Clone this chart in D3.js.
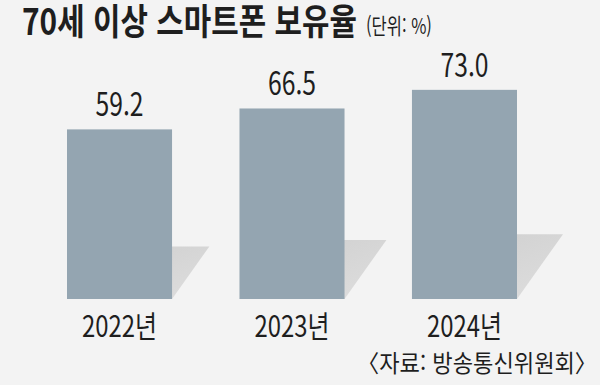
<!DOCTYPE html>
<html lang="ko">
<head>
    <meta charset="utf-8">
    <title>70세 이상 스마트폰 보유율</title>
    <script src="https://d3js.org/d3.v7.min.js" charset="utf-8"></script>
    <style>
        body { margin: 0; background: #f3f3f3; }
        text { font-family: "Noto Sans CJK KR", "Noto Sans", sans-serif; fill: #1e1e1e; }
    </style>
</head>
<body>
<script>

    var years = ["2022년", "2023년", "2024년"]
    var values = [59.2, 66.5, 73.0]
    var valueLabels = ["59.2", "66.5", "73.0"]

    var w = 600
    var h = 385
    var base = 299

    var svg = d3.select("body").append("svg").attr("width", w).attr("height", h)

    svg.append("rect").attr("width", w).attr("height", h).attr("fill", "#f3f3f3")

    var defs = svg.append("defs")
    var grad = defs.append("linearGradient").attr("id", "shade")
        .attr("x1", "0").attr("y1", "0").attr("x2", "1").attr("y2", "1")
    grad.append("stop").attr("offset", "0").attr("stop-color", "#cdcdcd")
    grad.append("stop").attr("offset", "1").attr("stop-color", "#dedede")
    defs.append("filter").attr("id", "soft")
        .append("feGaussianBlur").attr("stdDeviation", 0.7)

    // condensed look: put text at (x,y) and squeeze it to the given width
    function squeezed(x, y, str, size, width, anchor, weight) {
        var g = svg.append("g")
        var t = g.append("text")
            .attr("font-size", size)
            .attr("font-weight", weight || 400)
            .attr("text-anchor", anchor || "start")
            .text(str)
        var natural = t.node().getComputedTextLength()
        g.attr("transform", "translate(" + x + "," + y + ") scale(" + (width / natural) + ",1)")
        return g
    }

    var xScale = d3.scaleBand().domain(years)
        .range([33.25, 550.75])
        .paddingInner(0.391)
        .paddingOuter(0.1957)

    var yScale = d3.scaleLinear().domain([0, 100]).range([base, base - 286.5])

    var data = years.map(function (y, i) { return { year: y, value: values[i], label: valueLabels[i] } })

    // shadow behind each bar
    svg.selectAll(".shadow").data(data).enter().append("polygon")
        .attr("class", "shadow")
        .attr("fill", "url(#shade)")
        .attr("filter", "url(#soft)")
        .attr("points", function (d) {
            var x = xScale(d.year)
            var bw = xScale.bandwidth()
            var bh = base - yScale(d.value)
            var sh = bh * 0.31
            var dx = bh * 0.22
            return [[x, base], [x + bw, base], [x + bw + dx, base - sh], [x + dx, base - sh]].join(" ")
        })

    svg.selectAll(".bar").data(data).enter().append("rect")
        .attr("class", "bar")
        .attr("x", function (d) { return xScale(d.year) })
        .attr("y", function (d) { return yScale(d.value) })
        .attr("width", xScale.bandwidth())
        .attr("height", function (d) { return base - yScale(d.value) })
        .attr("fill", "#94a5b1")

    data.forEach(function (d) {
        var cx = xScale(d.year) + xScale.bandwidth() / 2
        squeezed(cx, yScale(d.value) - 13, d.label, 32, 48, "middle")
        squeezed(cx, 337, d.year, 30, 75, "middle")
    })

    // title
    squeezed(22, 35, "70세 이상 스마트폰 보유율", 36, 335, "start", 700)
    squeezed(366, 34, "(단위: %)", 22, 66, "start")

    squeezed(597, 372, "〈자료: 방송통신위원회〉", 24, 240, "end")

</script>
</body>
</html>
